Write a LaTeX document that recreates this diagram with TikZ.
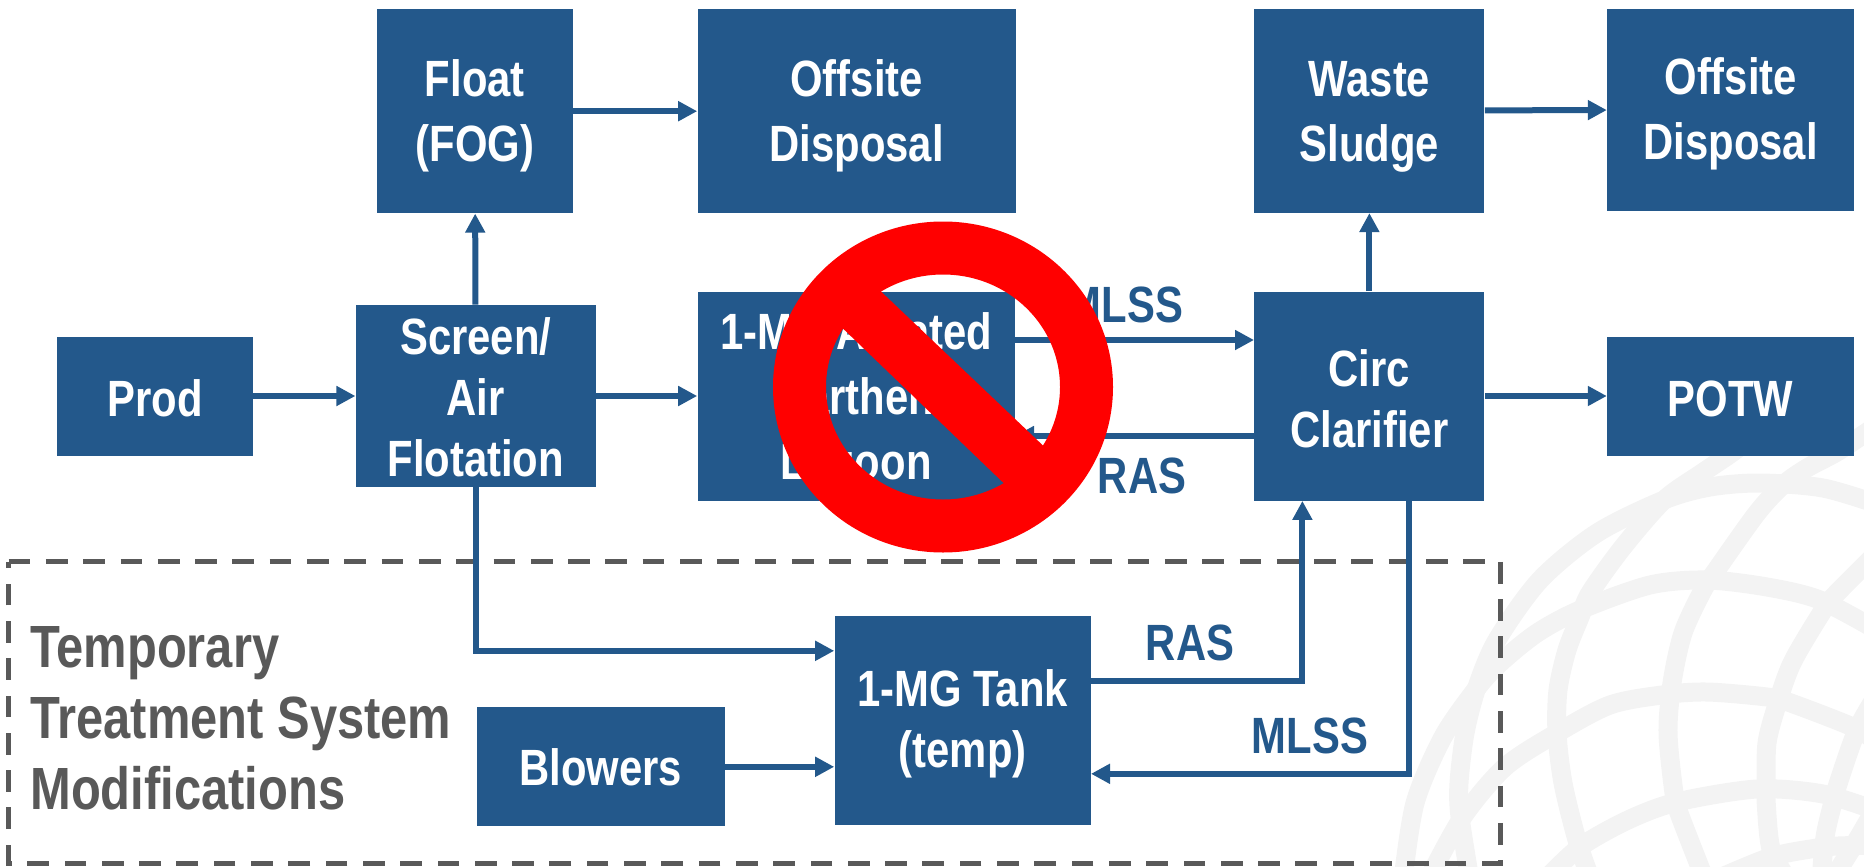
\documentclass[tikz,border=0pt]{standalone}
\usepackage{fontspec}
\setmainfont[FakeStretch=0.82]{Liberation Sans}
\usepackage{xcolor}
\usetikzlibrary{arrows.meta,positioning}
\definecolor{pfdblue}{HTML}{23588B}
\definecolor{pfdgray}{HTML}{595959}
\definecolor{pfdglobe}{HTML}{F3F3F3}
\tikzset{
  pfd_box/.style={
    rectangle, fill=pfdblue, text=white, inner sep=0pt, align=center,
    font=\fontsize{25.5}{32.5}\selectfont\bfseries
  },
  pfd_tight/.style={font=\fontsize{25.5}{30.5}\selectfont\bfseries},
  pfd_arr/.style={-{Triangle[length=9.5pt,width=9.5pt]}, line width=3pt, draw=pfdblue},
  pfd_lbl/.style={text=pfdblue, inner sep=0pt, font=\fontsize{25.5}{30}\selectfont\bfseries},
  pfd_sys/.style={draw=pfdgray, line width=2.5pt, dash pattern=on 10.85pt off 7.8pt},
  pfd_globe/.style={draw=pfdglobe, line width=9.5pt},
}
\begin{document}
\begin{tikzpicture}[x=0.5pt,y=-0.5pt]
\useasboundingbox (0,0) rectangle (1864,867);

% Watermark globe behind everything
\begin{scope}
\clip (0,0) rectangle (1864,867);
\draw[pfd_globe] plot[smooth] coordinates {(1470,880) (1460,817) (1459,783) (1465,733) (1477,687) (1497,640) (1540,580) (1597,533) (1664,500) (1710,487) (1760,483) (1823,488) (1880,505)};
\draw[pfd_globe] plot[smooth] coordinates {(1403,880) (1415,803) (1443,737) (1477,688) (1500,663) (1537,633) (1580,610) (1650,585) (1707,580) (1767,587) (1820,600) (1880,632)};
\draw[pfd_globe] plot[smooth] coordinates {(1591,880) (1577,840) (1563,783) (1557,733) (1558,690) (1567,650) (1580,617) (1590,593) (1623,547) (1664,500) (1702,473) (1733,452) (1760,430)};
\draw[pfd_globe] plot[smooth] coordinates {(1705,880) (1679,813) (1674,793) (1668,733) (1672,683) (1683,633) (1703,590) (1715,572) (1757,513) (1783,485) (1807,468) (1837,452) (1870,430)};
\draw[pfd_globe] plot[smooth] coordinates {(1788,880) (1771,849) (1766,800) (1766,783) (1767,743) (1776,708) (1792,663) (1822,612) (1834,596) (1880,550)};
\draw[pfd_globe] plot[smooth] coordinates {(1821,880) (1825,837) (1832,806) (1837,787) (1857,730) (1880,690)};
\draw[pfd_globe] plot[smooth] coordinates {(1832,880) (1857,840) (1880,800)};
\draw[pfd_globe] plot[smooth] coordinates {(1428,880) (1462,818) (1505,767) (1557,733) (1610,705) (1662,695) (1707,692) (1767,697) (1788,702) (1855,728) (1880,745)};
\draw[pfd_globe] plot[smooth] coordinates {(1545,880) (1580,847) (1628,820) (1677,802) (1757,789) (1823,794) (1880,812)};
\draw[pfd_globe] plot[smooth] coordinates {(1715,880) (1771,857) (1817,848) (1838,846) (1880,845)};
\end{scope}

\node[minimum width=745.5pt, minimum height=150.5pt, inner sep=0pt] (tempsys) at (754.5,712.5) {};
\draw[pfd_sys] (tempsys.north west) -- (tempsys.north east) -- (tempsys.south east) -- (tempsys.south west) -- cycle;
\node[anchor=west, inner sep=0pt, align=left, text=pfdgray, font=\fontsize{29.8}{35.5}\selectfont\bfseries] (templbl) at (30,718)
  {Temporary\\Treatment System\\Modifications};

\node[pfd_box, minimum width=98pt, minimum height=59.5pt] (prod) at (155,396) {\rule{0pt}{21pt}Prod};
\node[pfd_box, pfd_tight, minimum width=120pt, minimum height=91pt, right=51pt of prod] (screen) {\rule{0pt}{19.8pt}Screen/\\Air\\Flotation};
\node[pfd_box, minimum width=158.5pt, minimum height=104.5pt, right=50.5pt of screen] (lagoon) {\rule{0pt}{24pt}1-MG Aerated\\Earthen\\Lagoon};
\node[pfd_box, pfd_tight, minimum width=115pt, minimum height=104.5pt, right=119.5pt of lagoon] (circ) {\rule{0pt}{21.6pt}Circ\\Clarifier};
\node[pfd_box, minimum width=123.5pt, minimum height=59.5pt, right=61pt of circ] (potw) {\rule{0pt}{21pt}POTW};
\node[pfd_box, minimum width=98pt, minimum height=102pt, above=45.5pt of screen, xshift=-0.5pt] (float) {\rule{0pt}{22.8pt}Float\\(FOG)};
\node[pfd_box, minimum width=159pt, minimum height=102pt, right=62pt of float] (offa) {\rule{0pt}{22.8pt}Offsite\\Disposal};
\node[pfd_box, minimum width=115pt, minimum height=102pt, above=39pt of circ] (waste) {\rule{0pt}{23.4pt}Waste\\Sludge};
\node[pfd_box, minimum width=123.5pt, minimum height=101pt, right=61pt of waste, yshift=0.5pt] (offb) {\rule{0pt}{22.8pt}Offsite\\Disposal};
\node[pfd_box, pfd_tight, minimum width=128pt, minimum height=104.5pt, below=57.5pt of lagoon, xshift=53.25pt] (tank) {\rule{0pt}{21.6pt}1-MG Tank\\(temp)};
\node[pfd_box, minimum width=124pt, minimum height=59.5pt, left=54.5pt of tank, yshift=-23pt] (blowers) {\rule{0pt}{19pt}Blowers};

% Main flow
\draw[pfd_arr] (prod) -- (screen);
\draw[pfd_arr] (screen) -- (lagoon);
\draw[pfd_arr] (screen) -- (float);
\draw[pfd_arr] (float) -- (offa);
\draw[pfd_arr] (waste) -- (offb);
\draw[pfd_arr] (circ) -- (waste);
\draw[pfd_arr] (circ) -- (potw);

% Lagoon loop
\draw[pfd_arr] ([yshift=28pt]lagoon.east) -- ([yshift=28pt]circ.west);
\draw[pfd_arr] ([yshift=-20pt]circ.west) -- ([yshift=-20pt]lagoon.east);
\node[pfd_lbl] (mlssa) at (1125,305) {MLSS};
\node[pfd_lbl] (rasa) at (1142,476) {RAS};

% Temporary tank loop
\draw[pfd_arr] (screen.south) |- ([yshift=35pt]tank.west);
\draw[pfd_arr] (blowers.east) -- (blowers.east -| tank.west);
\draw[pfd_arr] ([yshift=20pt]tank.east) -| ([xshift=-33.5pt]circ.south);
\draw[pfd_arr] ([xshift=20pt]circ.south) |- ([yshift=-26.5pt]tank.east);
\node[pfd_lbl] (rasb) at (1190,643) {RAS};
\node[pfd_lbl] (mlssb) at (1310,736) {MLSS};

% Crossed-out sign on top
\draw[red, line width=26.5pt] (943,387) ellipse [x radius=143.5, y radius=139];
\fill[red] (871,282) -- (1054,456) -- (1015,494) -- (832,318) -- cycle;

\end{tikzpicture}
\end{document}
